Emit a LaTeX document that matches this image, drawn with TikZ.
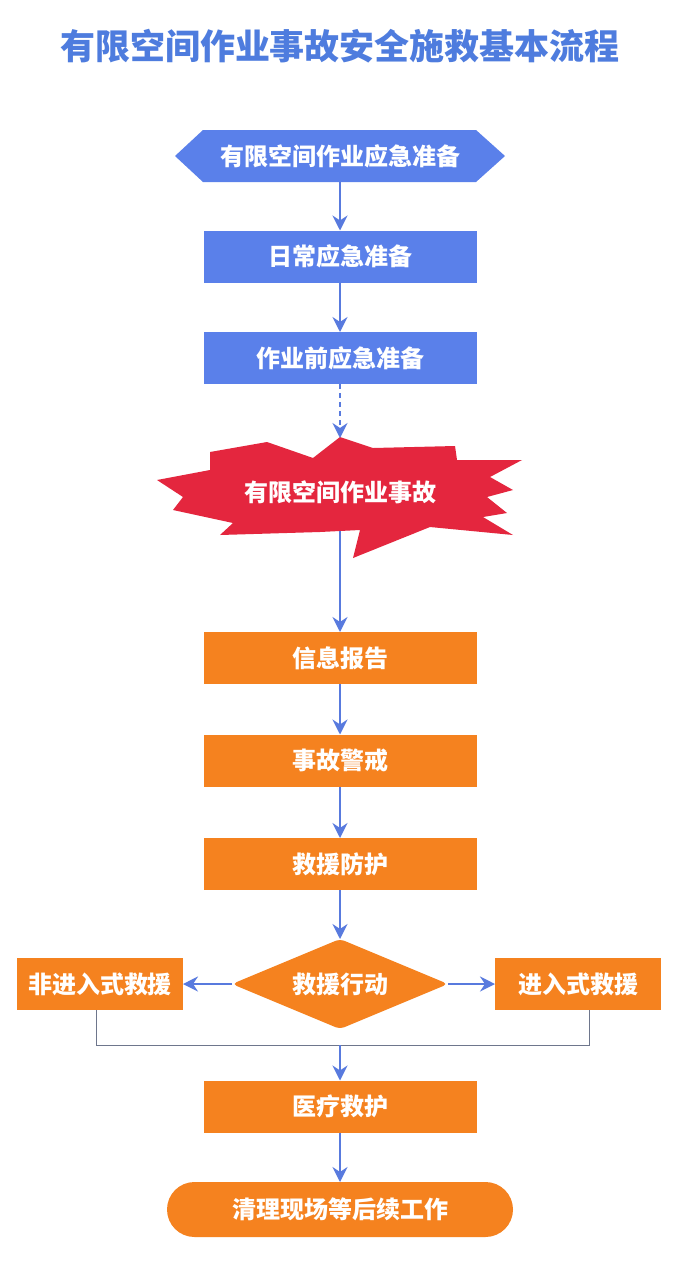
\documentclass[tikz,border=0pt]{standalone}
\usepackage{fontspec}
\newfontfamily\cjk{Noto Sans CJK SC}
\usetikzlibrary{arrows.meta,shapes.geometric}
\definecolor{bluebox}{RGB}{90,128,234}
\definecolor{orangebox}{RGB}{245,130,31}
\definecolor{redstar}{RGB}{228,38,62}
\definecolor{arrowblue}{RGB}{88,122,222}
\definecolor{titleblue}{RGB}{78,124,222}
\definecolor{thinline}{RGB}{110,118,140}
\begin{document}
\begin{tikzpicture}[x=1pt,y=-1pt,
  lbl/.style={font=\cjk\bfseries\fontsize{24}{26}\selectfont, text=white},
  bluerect/.style={lbl, fill=bluebox, minimum width=273pt, minimum height=52pt, inner sep=0pt, outer sep=0pt},
  orangerect/.style={lbl, fill=orangebox, minimum width=273pt, minimum height=52pt, inner sep=0pt, outer sep=0pt},
  siderect/.style={lbl, fill=orangebox, minimum width=166pt, minimum height=52pt, inner sep=0pt, outer sep=0pt},
  flow/.style={draw=arrowblue, line width=2.6pt, -{Stealth[length=15pt,width=15pt,inset=5pt]}},
  thin/.style={draw=thinline, line width=1pt}
]
\useasboundingbox (0,0) rectangle (680,1278);
\fill[white] (0,0) rectangle (680,1278);

% title
\node[font=\cjk\bfseries\fontsize{35}{38}\selectfont, text=titleblue] (title) at (340,46) {有限空间作业事故安全施救基本流程};

% hexagon
\fill[bluebox] (175,156) -- (203,130) -- (476,130) -- (505,156) -- (476,182) -- (203,182) -- cycle;
\node[lbl, minimum width=273pt, minimum height=52pt, inner sep=0pt, outer sep=0pt] (h) at (340,156) {有限空间作业应急准备};

\node[bluerect] (b1) at (340,256.5) {日常应急准备};
\node[bluerect] (b2) at (340,358) {作业前应急准备};

% star
\fill[redstar] (340,437) -- (373,448) -- (455,446) -- (457,460) -- (522,460) -- (490,477) -- (513,490)
  -- (487,497) -- (507,513) -- (483,517) -- (513,535) -- (430,527) -- (353,558) -- (360,530)
  -- (320,532) -- (220,535) -- (233,523) -- (173,510) -- (183,497) -- (157,480) -- (210,470)
  -- (210,452) -- (267,442) -- (313,458) -- cycle;
\node[lbl, inner sep=0pt] (acc) at (340,492) {有限空间作业事故};
\coordinate (startop) at (340,438);
\coordinate (starbot) at (340,531);

\node[orangerect] (r1) at (340,658) {信息报告};
\node[orangerect] (r2) at (340,760.5) {事故警戒};
\node[orangerect] (r3) at (340,864) {救援防护};

\node[lbl, diamond, fill=orangebox, minimum width=216pt, minimum height=90pt, aspect=2.4, inner sep=0pt, outer sep=0pt, rounded corners=5pt] (d) at (340,984) {救援行动};

\node[siderect] (left) at (100,984) {非进入式救援};
\node[siderect] (right) at (578,984) {进入式救援};

\node[orangerect] (r4) at (340,1106.5) {医疗救护};
\node[lbl, fill=orangebox, minimum width=346pt, minimum height=55pt, inner sep=0pt, outer sep=0pt, rounded corners=27.5pt] (end) at (340,1209.5) {清理现场等后续工作};

\coordinate (lj) at (96,1045);
\coordinate (rj) at (589,1045);
\coordinate (mj) at (340,1045);

% connectors
\draw[flow] (h.south) -- (b1.north);
\draw[flow] (b1.south) -- (b2.north);
\draw[flow, dash pattern=on 5pt off 4pt] (b2.south) -- (startop);
\draw[flow] (starbot) -- (r1.north);
\draw[flow] (r1.south) -- (r2.north);
\draw[flow] (r2.south) -- (r3.north);
\draw[flow] (r3.south) -- (d.north);
\draw[flow] (d.west) -- (left.east);
\draw[flow] (d.east) -- (right.west);
\draw[thin] (left.south -| lj) -- (lj) -- (rj) -- (right.south -| rj);
\draw[flow] (mj) -- (r4.north);
\draw[flow] (r4.south) -- (end.north);
\end{tikzpicture}
\end{document}
